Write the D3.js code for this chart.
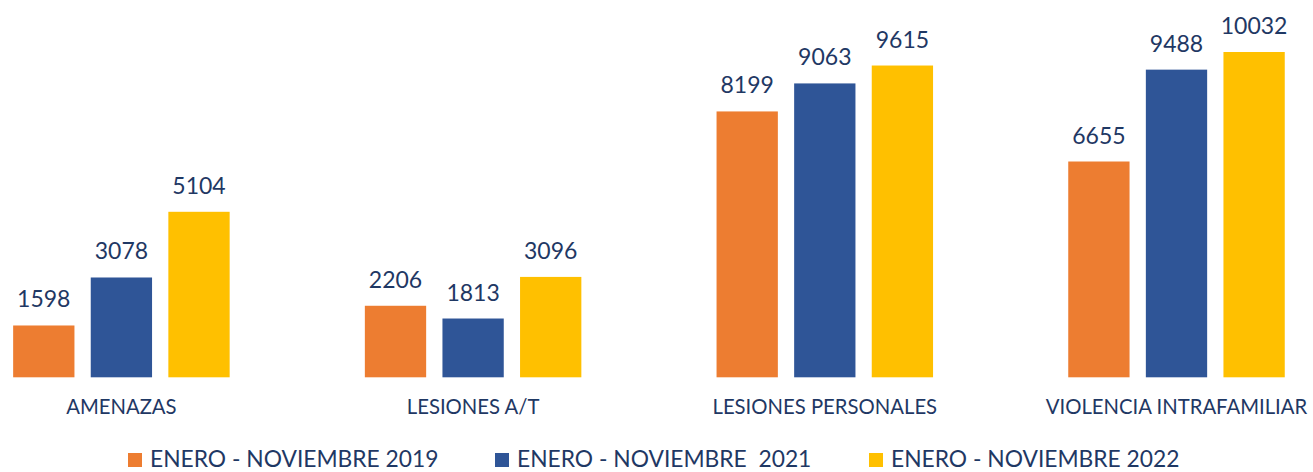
<!DOCTYPE html>
<html>
<head>
<meta charset="utf-8">
<script src="https://cdn.jsdelivr.net/npm/d3@7"></script>
<style>
  html, body { margin: 0; padding: 0; background: #fff; }
  svg { display: block; font-family: Lato, "Open Sans", sans-serif; }
</style>
</head>
<body>
<div id="chart"></div>
<script>
// categories and series
const categories = ["AMENAZAS", "LESIONES A/T", "LESIONES PERSONALES", "VIOLENCIA INTRAFAMILIAR"];
const seriesNames = ["ENERO - NOVIEMBRE 2019", "ENERO - NOVIEMBRE  2021", "ENERO - NOVIEMBRE 2022"];
const values2019 = [1598, 2206, 8199, 6655];
const values2021 = [3078, 1813, 9063, 9488];
const values2022 = [5104, 3096, 9615, 10032];
const colors = ["#ED7D31", "#2F5597", "#FFC000"];

const width = 1313;
const height = 472;
const textColor = "#1F3864";

const svg = d3.select("#chart")
    .append("svg")
    .attr("width", width)
    .attr("height", height);

// build rows from the arrays
const seriesValues = [values2019, values2021, values2022];
const rows = categories.map((c, i) => ({
    cat: c,
    vals: seriesValues.map((s, j) => ({ key: j, value: s[i] }))
}));

// outer band per category (chart is cropped a bit on both sides)
const x0 = d3.scaleBand()
    .domain(categories)
    .range([-54.45, 1352.35])
    .paddingInner(0.3844)
    .paddingOuter(0.1922);

const x1 = d3.scaleBand()
    .domain([0, 1, 2])
    .range([0, x0.bandwidth()])
    .paddingInner(0.21)
    .paddingOuter(0);

const y = d3.scaleLinear()
    .domain([0, 10032])
    .range([377.3, 52]);

const groups = svg.selectAll("g.cat")
    .data(rows)
    .enter().append("g")
    .attr("class", "cat")
    .attr("transform", (d) => "translate(" + x0(d.cat) + ",0)");

groups.selectAll("rect")
    .data((d) => d.vals)
    .enter().append("rect")
    .attr("x", (d) => x1(d.key))
    .attr("y", (d) => y(d.value))
    .attr("width", x1.bandwidth())
    .attr("height", (d) => y(0) - y(d.value))
    .attr("fill", (d) => colors[d.key]);

// value labels above the bars
groups.selectAll("text.val")
    .data((d) => d.vals)
    .enter().append("text")
    .attr("class", "val")
    .attr("x", (d) => x1(d.key) + x1.bandwidth() / 2)
    .attr("y", (d) => y(d.value) - 18)
    .attr("text-anchor", "middle")
    .attr("fill", textColor)
    .style("font-size", "23px")
    .text((d) => d.value);

// category labels
svg.selectAll("text.cat-label")
    .data(categories)
    .enter().append("text")
    .attr("class", "cat-label")
    .attr("x", (d) => x0(d) + x0.bandwidth() / 2)
    .attr("y", 414)
    .attr("text-anchor", "middle")
    .attr("fill", textColor)
    .style("font-size", "20.3px")
    .text((d) => d);

// legend, item starts as in the original layout
const legendX = [128, 495, 869];
const item = svg.append("g").attr("class", "legend")
    .selectAll("g")
    .data(seriesNames)
    .enter().append("g")
    .attr("transform", (d, i) => "translate(" + legendX[i] + ",0)");

item.append("rect")
    .attr("width", 14)
    .attr("height", 14)
    .attr("y", 453)
    .attr("fill", (d, i) => colors[i]);

item.append("text")
    .attr("x", 22)
    .attr("y", 467)
    .attr("fill", textColor)
    .style("font-size", "22.8px")
    .style("white-space", "pre")
    .text((d) => d);
</script>
</body>
</html>
